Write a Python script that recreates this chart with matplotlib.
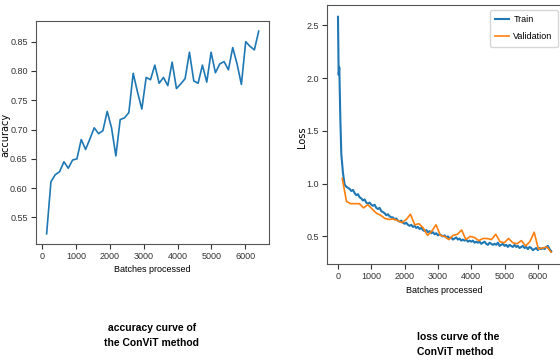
import matplotlib
matplotlib.use("Agg")
import matplotlib.pyplot as plt

# accuracy per evaluation (left panel)
acc_steps = [128 * k for k in range(1, 51)]
acc_values = [0.522, 0.611, 0.623, 0.628, 0.645, 0.634, 0.648, 0.650, 0.683, 0.666,
              0.684, 0.703, 0.693, 0.698, 0.731, 0.703, 0.655, 0.717, 0.720, 0.729,
              0.796, 0.764, 0.735, 0.789, 0.785, 0.810, 0.779, 0.789, 0.775, 0.815,
              0.770, 0.778, 0.787, 0.832, 0.783, 0.779, 0.810, 0.781, 0.832, 0.797,
              0.812, 0.816, 0.802, 0.840, 0.812, 0.777, 0.850, 0.842, 0.836, 0.868]

# training loss (right panel)
train_steps = [0, 20, 40, 70, 100, 150] + list(range(200, 6401, 50))
train_loss = [2.58, 2.03, 2.10, 1.62, 1.28, 1.10,
              0.99, 0.97, 0.96, 0.95, 0.93, 0.94, 0.91, 0.89, 0.90, 0.87,
              0.86, 0.84, 0.85, 0.82, 0.81, 0.82, 0.80, 0.79, 0.80, 0.77,
              0.76, 0.77, 0.74, 0.73, 0.72, 0.70, 0.71, 0.69, 0.68, 0.68,
              0.66, 0.67, 0.65, 0.64, 0.65, 0.63, 0.62, 0.63, 0.61, 0.60,
              0.61, 0.59, 0.60, 0.58, 0.59, 0.57, 0.58, 0.56, 0.55, 0.56,
              0.54, 0.55, 0.53, 0.54, 0.52, 0.53, 0.51, 0.52, 0.51, 0.50,
              0.51, 0.49, 0.50, 0.48, 0.49, 0.47, 0.48, 0.49, 0.47, 0.48,
              0.46, 0.47, 0.46, 0.47, 0.45, 0.46, 0.45, 0.46, 0.44, 0.45,
              0.44, 0.45, 0.43, 0.44, 0.45, 0.43, 0.42, 0.44, 0.43, 0.42,
              0.43, 0.42, 0.44, 0.41, 0.42, 0.43, 0.41, 0.42, 0.40, 0.42,
              0.41, 0.40, 0.42, 0.40, 0.41, 0.39, 0.40, 0.41, 0.39, 0.40,
              0.38, 0.40, 0.39, 0.37, 0.38, 0.39, 0.37, 0.39, 0.38, 0.39,
              0.38, 0.40, 0.41, 0.38, 0.36]

# validation loss
val_steps = [128 * k for k in range(1, 51)]
val_loss = [1.05, 0.83, 0.81, 0.81, 0.81, 0.77, 0.80, 0.76, 0.72, 0.70,
            0.67, 0.66, 0.665, 0.65, 0.63, 0.66, 0.71, 0.61, 0.62, 0.58,
            0.51, 0.55, 0.61, 0.51, 0.50, 0.47, 0.51, 0.52, 0.56, 0.47,
            0.50, 0.49, 0.46, 0.48, 0.48, 0.47, 0.52, 0.45, 0.44, 0.48,
            0.44, 0.43, 0.46, 0.41, 0.45, 0.54, 0.38, 0.39, 0.40, 0.35]

xticks = [0, 1000, 2000, 3000, 4000, 5000, 6000]

plt.rcParams["font.family"] = ["Liberation Sans", "DejaVu Sans"]
plt.rcParams["font.size"] = 6.5

fig = plt.figure(figsize=(5.6, 3.64), dpi=100)

ax1 = fig.add_axes([0.0643, 0.3297, 0.4166, 0.6126])
ax1.plot(acc_steps, acc_values, color="#1f77b4", linewidth=1.2)
ax1.set_xlabel("Batches processed", fontsize=6.5, labelpad=3)
ax1.set_ylabel("accuracy", fontsize=7, family="DejaVu Sans")
ax1.yaxis.set_label_coords(-0.112, 0.49)
ax1.set_xticks(xticks)
ax1.set_yticks([0.55, 0.60, 0.65, 0.70, 0.75, 0.80, 0.85])

ax2 = fig.add_axes([0.5845, 0.2747, 0.4188, 0.7115])
ax2.plot(train_steps, train_loss, color="#1f77b4", linewidth=1.5, label="Train")
ax2.plot(val_steps, val_loss, color="#ff7f0e", linewidth=1.2, label="Validation")
ax2.set_xlabel("Batches processed", fontsize=6.5, labelpad=3)
ax2.set_ylabel("Loss", fontsize=7, family="DejaVu Sans")
ax2.yaxis.set_label_coords(-0.085, 0.49)
ax2.set_xticks(xticks)
ax2.set_yticks([0.5, 1.0, 1.5, 2.0, 2.5])
ax2.legend(loc="upper right", bbox_to_anchor=(0.984, 0.981), borderaxespad=0,
           fontsize=6.5, handlelength=1.5, handletextpad=0.5, borderpad=0.6,
           labelspacing=0.9)

for ax in (ax1, ax2):
    for sp in ax.spines.values():
        sp.set_color("#555555")
    ax.tick_params(colors="#333333", labelsize=6.5, length=3.5, pad=2.5)

fig.text(0.2714, 0.0783, "accuracy curve of\nthe ConViT method", ha="center", va="center",
         fontsize=7.5, fontweight="bold", linespacing=1.55)
fig.text(0.7446, 0.0536, "loss curve of the\nConViT method", ha="left", va="center",
         fontsize=7.5, fontweight="bold", linespacing=1.55)

fig.savefig("out.png", dpi=100)
